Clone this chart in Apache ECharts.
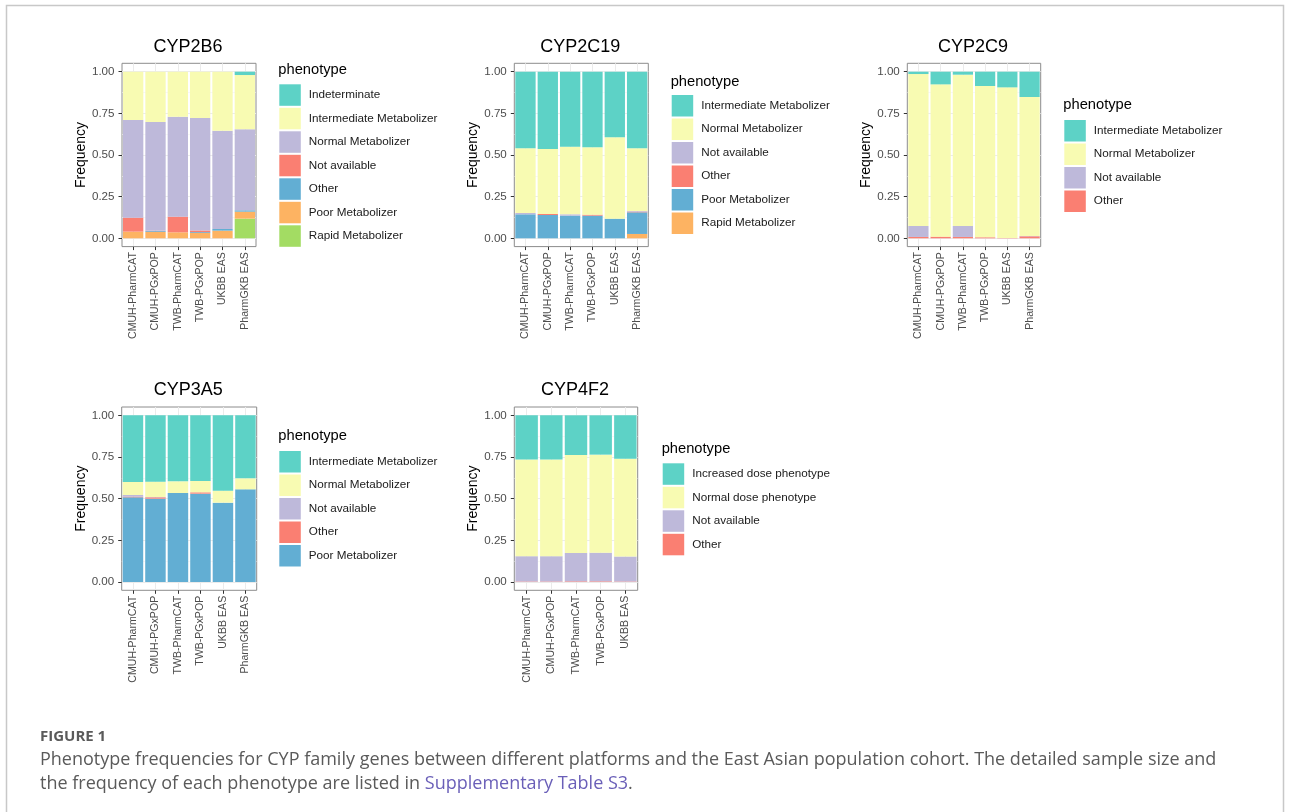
<!DOCTYPE html>
<html>
<head>
<meta charset="utf-8">
<script src="https://cdn.jsdelivr.net/npm/echarts@6/dist/echarts.min.js"></script>
<style>
  html, body { margin: 0; padding: 0; background: #ffffff; }
  #chart { width: 1292px; height: 812px; }
</style>
</head>
<body>
<div id="chart"></div>
<script>
// ---- data -------------------------------------------------------------
const platforms = ['CMUH-PharmCAT', 'CMUH-PGxPOP', 'TWB-PharmCAT', 'TWB-PGxPOP', 'UKBB EAS', 'PharmGKB EAS'];
const platforms4F2 = ['CMUH-PharmCAT', 'CMUH-PGxPOP', 'TWB-PharmCAT', 'TWB-PGxPOP', 'UKBB EAS'];
const yTicks = [0, 0.25, 0.5, 0.75, 1];

// each row is one phenotype (legend order), each column one platform
const cyp2b6Phenotypes = ['Indeterminate', 'Intermediate Metabolizer', 'Normal Metabolizer', 'Not available', 'Other', 'Poor Metabolizer', 'Rapid Metabolizer'];
const cyp2b6Freq = [
  [0, 0, 0, 0, 0, 0.020],
  [0.290, 0.302, 0.270, 0.278, 0.354, 0.326],
  [0.586, 0.653, 0.600, 0.675, 0.590, 0.486],
  [0.084, 0.002, 0.094, 0.010, 0, 0],
  [0, 0.005, 0, 0.005, 0.010, 0.008],
  [0.040, 0.038, 0.036, 0.032, 0.046, 0.042],
  [0, 0, 0, 0, 0, 0.118]
];

const cyp2c19Phenotypes = ['Intermediate Metabolizer', 'Normal Metabolizer', 'Not available', 'Other', 'Poor Metabolizer', 'Rapid Metabolizer'];
const cyp2c19Freq = [
  [0.460, 0.464, 0.450, 0.454, 0.394, 0.460],
  [0.388, 0.390, 0.406, 0.404, 0.488, 0.376],
  [0.008, 0, 0.008, 0, 0, 0.004],
  [0, 0.006, 0, 0.006, 0, 0.004],
  [0.144, 0.140, 0.136, 0.136, 0.118, 0.130],
  [0, 0, 0, 0, 0, 0.026]
];

const cyp2c9Phenotypes = ['Intermediate Metabolizer', 'Normal Metabolizer', 'Not available', 'Other'];
const cyp2c9Freq = [
  [0.014, 0.076, 0.018, 0.086, 0.094, 0.152],
  [0.912, 0.914, 0.908, 0.908, 0.904, 0.834],
  [0.066, 0, 0.066, 0, 0, 0.002],
  [0.008, 0.010, 0.008, 0.006, 0.002, 0.012]
];

const cyp3a5Phenotypes = ['Intermediate Metabolizer', 'Normal Metabolizer', 'Not available', 'Other', 'Poor Metabolizer'];
const cyp3a5Freq = [
  [0.400, 0.398, 0.396, 0.394, 0.452, 0.378],
  [0.078, 0.092, 0.070, 0.068, 0.072, 0.066],
  [0.010, 0.002, 0, 0, 0, 0],
  [0.004, 0.008, 0, 0.008, 0, 0],
  [0.508, 0.500, 0.534, 0.530, 0.476, 0.556]
];

const cyp4f2Phenotypes = ['Increased dose phenotype', 'Normal dose phenotype', 'Not available', 'Other'];
const cyp4f2Freq = [
  [0.265, 0.265, 0.238, 0.236, 0.260],
  [0.580, 0.580, 0.588, 0.588, 0.587],
  [0.152, 0.152, 0.170, 0.172, 0.150],
  [0.003, 0.003, 0.004, 0.004, 0.003]
];

// ---- styling ----------------------------------------------------------
const palette = ['#5DD2C6', '#F8FBB2', '#BEB9DA', '#FA7F72', '#62AED3', '#FDB362', '#A3DC63'];
const FONT = '"Liberation Sans", Arial, Helvetica, sans-serif';
const GRID_COLOR = '#EBEBEB';
const BORDER_COLOR = '#8C8C8C';

// panel layout: border box (x0..x1, y0..y1), data area (dTop..dBottom) and legend anchor
const panels = [
  { gene: 'CYP2B6',  cats: platforms,    names: cyp2b6Phenotypes,  freq: cyp2b6Freq,
    x0: 122.0, x1: 256.0, y0: 63.3, dTop: 71.7, dBottom: 238.3, y1: 246.6, lx: 279.3, lTitle: 70.0, lKeys: 84.3 },
  { gene: 'CYP2C19', cats: platforms,    names: cyp2c19Phenotypes, freq: cyp2c19Freq,
    x0: 514.3, x1: 648.3, y0: 63.3, dTop: 71.7, dBottom: 238.3, y1: 246.6, lx: 671.7, lTitle: 81.7, lKeys: 95.0 },
  { gene: 'CYP2C9',  cats: platforms,    names: cyp2c9Phenotypes,  freq: cyp2c9Freq,
    x0: 907.3, x1: 1040.7, y0: 63.3, dTop: 71.7, dBottom: 238.3, y1: 246.6, lx: 1064.3, lTitle: 105.0, lKeys: 120.0 },
  { gene: 'CYP3A5',  cats: platforms,    names: cyp3a5Phenotypes,  freq: cyp3a5Freq,
    x0: 121.7, x1: 256.7, y0: 407.0, dTop: 415.3, dBottom: 582.0, y1: 590.3, lx: 279.3, lTitle: 436.0, lKeys: 451.0 },
  { gene: 'CYP4F2',  cats: platforms4F2, names: cyp4f2Phenotypes,  freq: cyp4f2Freq,
    x0: 514.3, x1: 637.7, y0: 407.0, dTop: 415.3, dBottom: 582.0, y1: 590.3, lx: 662.7, lTitle: 449.0, lKeys: 463.3 }
];

const grid = [], xAxis = [], yAxis = [], series = [], legend = [], graphic = [];

panels.forEach((p, i) => {
  const gBorder = 2 * i, gData = 2 * i + 1;

  // frame grid: panel border, vertical grid lines, x ticks and labels
  grid.push({ left: p.x0, top: p.y0, width: p.x1 - p.x0, height: p.y1 - p.y0,
    show: true, borderColor: BORDER_COLOR, borderWidth: 1, backgroundColor: 'transparent', containLabel: false });
  // data grid: the 0..1 range of the stacked bars
  grid.push({ left: p.x0, top: p.dTop, width: p.x1 - p.x0, height: p.dBottom - p.dTop, containLabel: false });

  xAxis.push({
    type: 'category', gridIndex: gBorder, data: p.cats, boundaryGap: true,
    axisLine: { show: false },
    axisTick: { show: true, alignWithLabel: true, length: 3.5, lineStyle: { color: '#333333', width: 1 } },
    axisLabel: { rotate: 90, margin: 5.5, fontFamily: FONT, fontSize: 10.6, color: '#4D4D4D' },
    splitLine: { show: true, alignWithLabel: true, lineStyle: { color: GRID_COLOR, width: 1 } }
  });
  xAxis.push({ type: 'category', gridIndex: gData, data: p.cats, show: false, boundaryGap: true });

  yAxis.push({ type: 'value', gridIndex: gBorder, min: 0, max: 1, show: false, splitLine: { show: false } });
  yAxis.push({
    type: 'value', gridIndex: gData, min: 0, max: 1, interval: 0.25,
    name: 'Frequency', nameLocation: 'middle', nameGap: 30,
    nameTextStyle: { fontFamily: FONT, fontSize: 14, color: '#000000' },
    axisLine: { show: false },
    axisTick: { show: true, length: 3.5, lineStyle: { color: '#333333', width: 1 } },
    axisLabel: { margin: 7.5, fontFamily: FONT, fontSize: 11.6, color: '#4D4D4D',
      formatter: v => yTicks.includes(v) ? v.toFixed(2) : '' },
    splitLine: { show: true, lineStyle: { color: GRID_COLOR, width: 1 } },
    minorTick: { show: false, splitNumber: 2 },
    minorSplitLine: { show: true, lineStyle: { color: '#F2F2F2', width: 0.6 } }
  });

  // stack from the last phenotype at the bottom up to the first at the top
  for (let k = p.names.length - 1; k >= 0; k--) {
    series.push({
      type: 'bar', name: p.gene + ': ' + p.names[k], stack: p.gene,
      xAxisIndex: gData, yAxisIndex: gData,
      data: p.freq[k], barCategoryGap: '9%',
      itemStyle: { color: palette[k] },
      emphasis: { disabled: true }
    });
  }

  legend.push({
    orient: 'vertical', left: p.lx, top: p.lKeys, padding: 0,
    itemWidth: 21.5, itemHeight: 21.5, itemGap: 2, icon: 'rect',
    selectedMode: false,
    data: p.names.map(n => p.gene + ': ' + n),
    formatter: name => name.slice(name.indexOf(': ') + 2),
    textStyle: { fontFamily: FONT, fontSize: 11.7, color: '#1A1A1A', padding: [0, 0, 0, 3] }
  });

  graphic.push({
    type: 'text', x: (p.x0 + p.x1) / 2 - 1, y: p.y0 - 16.5,
    style: { text: p.gene, font: '18px ' + FONT, fill: '#000000', align: 'center', verticalAlign: 'middle' }
  });
  graphic.push({
    type: 'text', x: p.lx - 1, y: p.lTitle,
    style: { text: 'phenotype', font: '14.7px ' + FONT, fill: '#000000', align: 'left', verticalAlign: 'middle' }
  });
});

// outer figure frame
graphic.push({
  type: 'rect', shape: { x: 6.5, y: 5.5, width: 1277, height: 900 }, silent: true,
  style: { fill: 'none', stroke: '#C8C8C8', lineWidth: 1.5 }
});

// caption
const CAP_FONT = '"Open Sans", "Noto Sans", sans-serif';
graphic.push({
  type: 'text', x: 40, y: 737,
  style: { text: 'FIGURE 1', font: 'bold 15px ' + CAP_FONT, fill: '#5A5A5A', verticalAlign: 'middle' }
});
graphic.push({
  type: 'text', x: 40, y: 760,
  style: { text: 'Phenotype frequencies for CYP family genes between different platforms and the East Asian population cohort. The detailed sample size and',
    font: '18px ' + CAP_FONT, fill: '#5A5A5A', verticalAlign: 'middle' }
});
graphic.push({
  type: 'text', x: 40, y: 784,
  style: {
    text: '{t|the frequency of each phenotype are listed in }{l|Supplementary Table S3}{t|.}',
    verticalAlign: 'middle',
    rich: {
      t: { font: '18px ' + CAP_FONT, fill: '#5A5A5A' },
      l: { font: '18px ' + CAP_FONT, fill: '#6A5FB8' }
    }
  }
});

const chart = echarts.init(document.getElementById('chart'), null, { renderer: 'canvas' });
chart.setOption({
  animation: false,
  backgroundColor: '#ffffff',
  tooltip: { show: false },
  grid, xAxis, yAxis, series, legend, graphic
});
</script>
</body>
</html>
